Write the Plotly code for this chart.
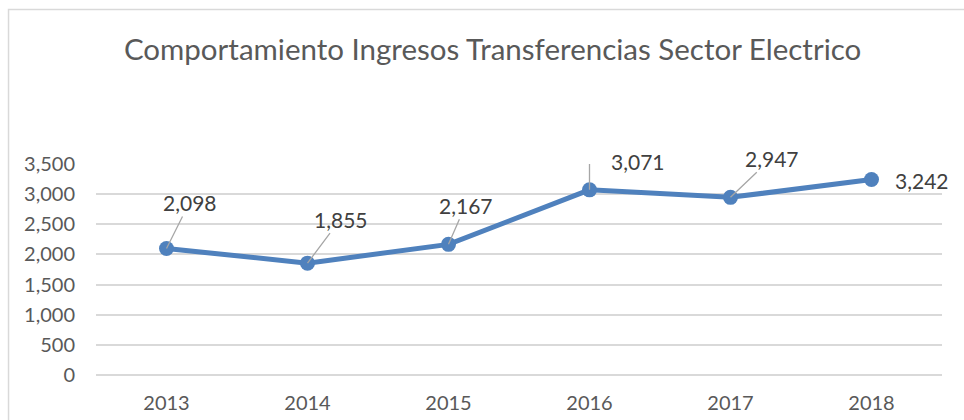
import plotly.graph_objects as go

# Ingresos por transferencias del sector eléctrico, por año
years = ["2013", "2014", "2015", "2016", "2017", "2018"]
ingresos = [2098, 1855, 2167, 3071, 2947, 3242]
y_ticks = [0, 500, 1000, 1500, 2000, 2500, 3000, 3500]

# Label placement (pixel offsets from each point) and whether a leader line is drawn
label_dx = [23, 33, 17, 48, 41, 50]
label_dy = [-46, -44, -39, -28, -39, 1]
label_leader = [True, True, True, False, True, False]

LINE_BLUE = "#4F81BD"
GRID = "#D9D9D9"
LEADER = "#A6A6A6"
FONT = "Lato, 'Open Sans', sans-serif"

xpos = list(range(len(years)))

fig = go.Figure()
fig.add_trace(go.Scatter(
    x=xpos, y=ingresos, mode="lines+markers",
    line=dict(color=LINE_BLUE, width=5),
    marker=dict(color=LINE_BLUE, size=15),
    text=years, hovertemplate="%{text}: %{y:,}<extra></extra>",
    showlegend=False, cliponaxis=False,
))

annotations = []
for xi, v, dx, dy, lead in zip(xpos, ingresos, label_dx, label_dy, label_leader):
    txt = f"{v:,}"
    if lead:
        annotations.append(dict(
            x=xi, y=v, xref="x", yref="y", text=txt,
            showarrow=True, ax=dx, ay=dy, arrowhead=0, arrowwidth=1.3,
            arrowcolor=LEADER, standoff=0,
            font=dict(family=FONT, size=21, color="#404040"),
        ))
    else:
        annotations.append(dict(
            x=xi, y=v, xref="x", yref="y", text=txt, showarrow=False,
            xshift=dx, yshift=-dy,
            font=dict(family=FONT, size=21, color="#404040"),
        ))

shapes = [
    # chart-area frame
    dict(type="rect", xref="paper", yref="paper", x0=-0.1034, x1=1.2, y0=-0.6, y1=1.732,
         line=dict(color=GRID, width=1.5), fillcolor="rgba(0,0,0,0)", layer="below"),
]
# elbow leader line for the 2016 label
i16 = years.index("2016")
shapes.append(dict(
    type="path", xref="x", yref="y", xsizemode="pixel", ysizemode="pixel",
    xanchor=xpos[i16], yanchor=ingresos[i16],
    path="M 0,0 L 0,29 L 15,29", line=dict(color=LEADER, width=1.3),
))

fig.update_layout(
    width=964, height=420,
    margin=dict(l=96, r=22, t=164, b=45, autoexpand=False),
    paper_bgcolor="white", plot_bgcolor="white",
    title=dict(
        text="Comportamiento Ingresos Transferencias Sector Electrico",
        x=0.511, xref="container", xanchor="center",
        y=1 - 50 / 420, yref="container", yanchor="middle",
        font=dict(family=FONT, size=29.5, color="#595959"),
    ),
    xaxis=dict(
        range=[-0.5, 5.5], tickvals=xpos, ticktext=years,
        showgrid=False, showline=False, zeroline=False, ticks="",
        ticklabelstandoff=14, automargin=False,
        tickfont=dict(family=FONT, size=20, color="#595959"),
    ),
    yaxis=dict(
        range=[0, 3500], tickvals=y_ticks, tickformat=",",
        showgrid=True, gridcolor=GRID, gridwidth=1.5,
        zeroline=True, zerolinecolor=GRID, zerolinewidth=1.5,
        showline=False, ticks="", ticklabelstandoff=20, automargin=False,
        tickfont=dict(family=FONT, size=20, color="#595959"),
    ),
    annotations=annotations,
    shapes=shapes,
)

fig.write_html("out.html")
